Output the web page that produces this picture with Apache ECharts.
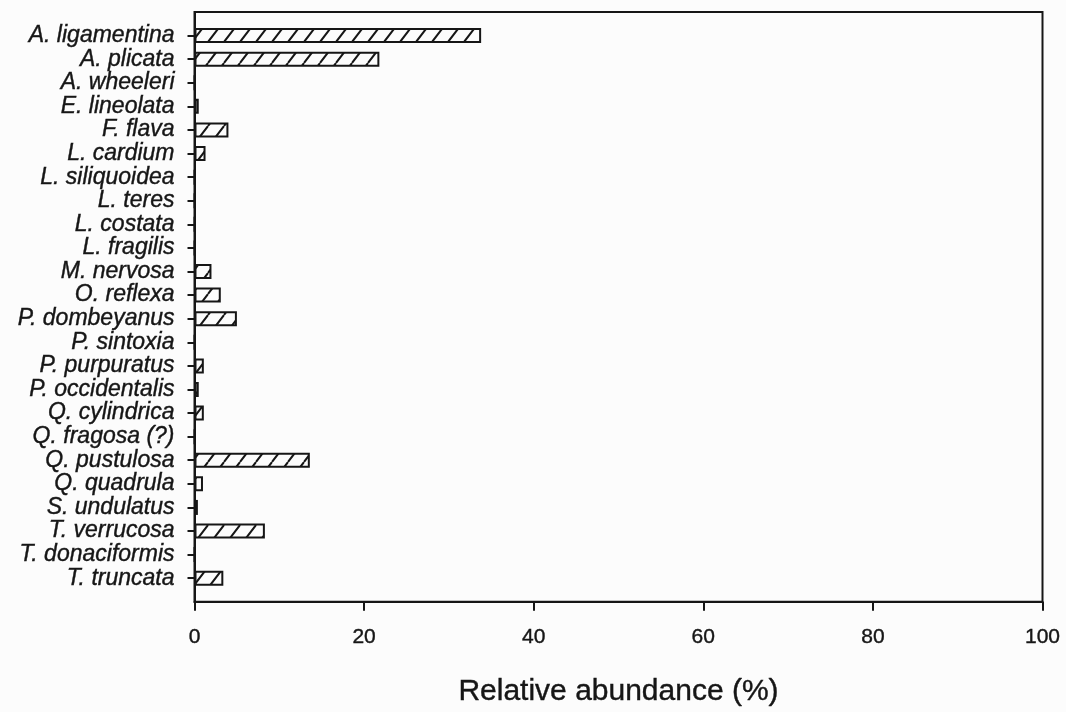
<!DOCTYPE html>
<html>
<head>
<meta charset="utf-8">
<script src="https://cdn.jsdelivr.net/npm/echarts@6/dist/echarts.min.js"></script>
<style>
  html, body { margin: 0; padding: 0; background: #fcfcfc; }
  #chart { width: 1066px; height: 712px; }
</style>
</head>
<body>
<div id="chart"></div>
<script>
// Species, top to bottom
const species = [
  'A. ligamentina', 'A. plicata', 'A. wheeleri', 'E. lineolata', 'F. flava',
  'L. cardium', 'L. siliquoidea', 'L. teres', 'L. costata', 'L. fragilis',
  'M. nervosa', 'O. reflexa', 'P. dombeyanus', 'P. sintoxia', 'P. purpuratus',
  'P. occidentalis', 'Q. cylindrica', 'Q. fragosa (?)', 'Q. pustulosa',
  'Q. quadrula', 'S. undulatus', 'T. verrucosa', 'T. donaciformis', 'T. truncata'
];

// Relative abundance (%) of each species
const abundance = [
  33.8, 21.8, 0, 0.5, 4.0,
  1.3, 0, 0, 0, 0,
  2.0, 3.1, 5.0, 0, 1.1,
  0.5, 1.1, 0, 13.6,
  1.0, 0.4, 8.3, 0, 3.4
];

const xTicks = { min: 0, max: 100, step: 20 };
const xTitle = 'Relative abundance (%)';

const INK = '#161616';

// Diagonal hatch fill for the bars: one steep stroke per tile
function hatchTile() {
  const w = 16, h = 21;
  const c = document.createElement('canvas');
  c.width = w; c.height = h;
  const g = c.getContext('2d');
  g.fillStyle = '#fcfcfc';
  g.fillRect(0, 0, w, h);
  g.strokeStyle = INK;
  g.lineWidth = 2;
  g.beginPath();
  for (const off of [-w, 0, w]) {
    g.moveTo(off, h); g.lineTo(off + w, 0);
  }
  g.stroke();
  return c;
}

// one empty slot above and below the list keeps a full row of space at each end
const yCats = [''].concat(species, ['']);
const yVals = ['-'].concat(abundance, ['-']);

const textBase = {
  fontFamily: 'Liberation Sans, Arial',
  color: INK,
  textBorderColor: INK,
  textBorderWidth: 0.4
};

const chart = echarts.init(document.getElementById('chart'));
chart.setOption({
  backgroundColor: '#fcfcfc',
  animation: false,
  grid: {
    left: 194.5, right: 23.5, top: 12, bottom: 107.5,
    show: true, borderColor: INK, borderWidth: 2, backgroundColor: 'transparent'
  },
  xAxis: {
    type: 'value',
    min: xTicks.min, max: xTicks.max, interval: xTicks.step,
    name: xTitle,
    nameLocation: 'middle',
    nameGap: 75,
    nameTextStyle: Object.assign({}, textBase, { fontSize: 30 }),
    axisLine: { show: true, lineStyle: { color: INK, width: 2 } },
    axisTick: { show: true, length: 9, lineStyle: { color: INK, width: 2 } },
    axisLabel: Object.assign({ margin: 25 }, textBase, { fontSize: 21 }),
    splitLine: { show: false }
  },
  yAxis: {
    type: 'category',
    data: yCats,
    inverse: true,
    boundaryGap: false,
    axisLine: { show: true, lineStyle: { color: INK, width: 2 } },
    axisTick: {
      show: true, length: 7,
      interval: (i) => i > 0 && i < yCats.length - 1,
      lineStyle: { color: INK, width: 2 }
    },
    axisLabel: Object.assign({ margin: 20, interval: 0 }, textBase,
      { fontStyle: 'italic', fontSize: 23 }),
    splitLine: { show: false }
  },
  series: [{
    type: 'bar',
    data: yVals,
    barWidth: 15,
    itemStyle: {
      color: { image: hatchTile(), repeat: 'repeat' },
      borderColor: INK,
      borderWidth: 2
    }
  }]
});
</script>
</body>
</html>
